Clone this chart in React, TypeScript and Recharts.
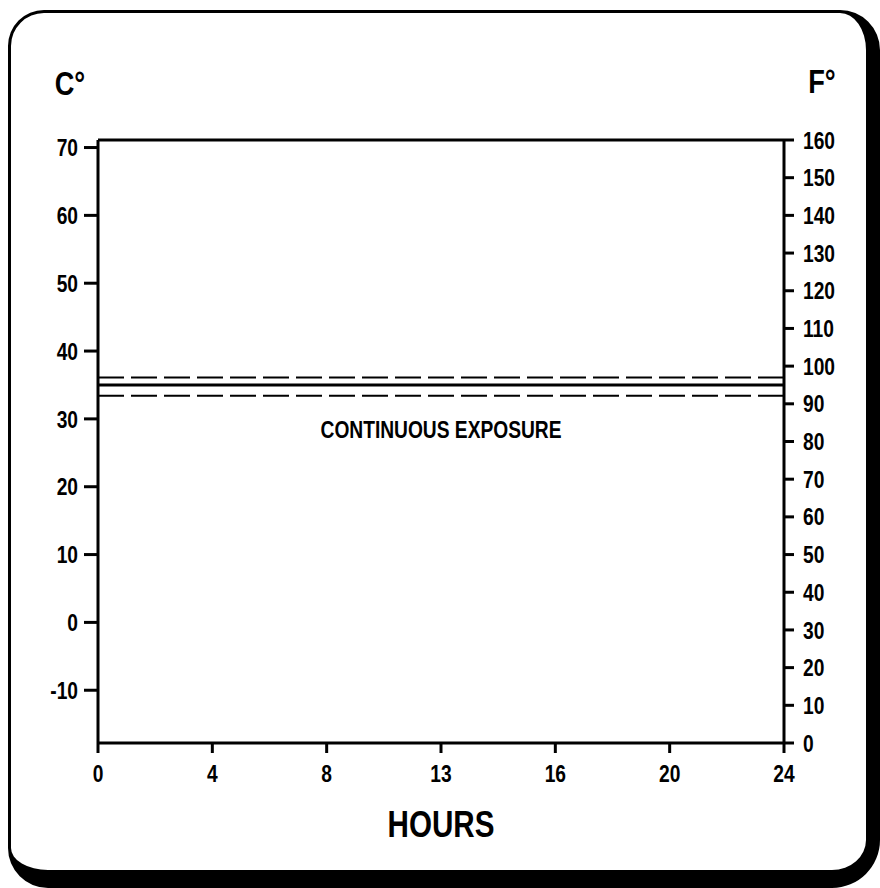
import {
  ComposedChart,
  Line,
  XAxis,
  YAxis,
  ReferenceLine,
  ReferenceDot,
} from 'recharts'

const hours = [0, 24]
const upperBandC = [36.1, 36.1]
const exposureC = [35, 35]
const lowerBandC = [33.4, 33.4]

const hourTicks = [0, 4, 8, 12, 16, 20, 24]
const hourTickLabels = ['0', '4', '8', '13', '16', '20', '24']
const celsiusTicks = [-10, 0, 10, 20, 30, 40, 50, 60, 70]
const fahrenheitTicks = [0, 10, 20, 30, 40, 50, 60, 70, 80, 90, 100, 110, 120, 130, 140, 150, 160]
const exposureLabel = 'CONTINUOUS EXPOSURE'

const FONT = '"Liberation Sans", Arial, sans-serif'
const INK = '#000'
const SQUEEZE = 0.8 // the scan uses a narrow face, fake it with a horizontal squeeze

const data = hours.map((h, i) => ({
  hour: h,
  upper: upperBandC[i],
  exposure: exposureC[i],
  lower: lowerBandC[i],
}))

// C axis spans the same range as 0..160 F on the right
const fToC = (f: number) => (f - 32) / 1.8
const cDomain = [fToC(fahrenheitTicks[0]), fToC(fahrenheitTicks[fahrenheitTicks.length - 1])]

function NarrowText({ x, y, anchor, dy, size, children }: any) {
  return (
    <text
      x={x}
      y={y}
      dy={dy}
      textAnchor={anchor}
      fill={INK}
      fontSize={size}
      fontWeight="bold"
      fontFamily={FONT}
      transform={`translate(${x},${y}) scale(${SQUEEZE},1) translate(${-x},${-y})`}
    >
      {children}
    </text>
  )
}

const hourTick = (p: any) => (
  <NarrowText x={p.x} y={p.y} anchor="middle" dy="0.71em" size={24}>
    {hourTickLabels[hourTicks.indexOf(p.payload.value)] ?? p.payload.value}
  </NarrowText>
)

const leftTick = (p: any) => (
  <NarrowText x={p.x} y={p.y} anchor="end" dy="0.36em" size={24}>
    {p.payload.value}
  </NarrowText>
)

const rightTick = (p: any) => (
  <NarrowText x={p.x} y={p.y} anchor="start" dy="0.36em" size={24}>
    {p.payload.value}
  </NarrowText>
)

export default function App() {
  return (
    <div style={{ position: 'absolute', left: 0, top: 0, width: 880, height: 888, background: '#fff' }}>
      <div
        style={{
          position: 'absolute',
          left: 8,
          top: 10,
          width: 872,
          height: 878,
          boxSizing: 'border-box',
          borderStyle: 'solid',
          borderColor: INK,
          borderTopWidth: 3,
          borderLeftWidth: 3,
          borderRightWidth: 14,
          borderBottomWidth: 18,
          borderRadius: '36px 40px 48px 40px',
        }}
      />
      <div style={{ position: 'absolute', left: 0, top: 0 }}>
        <ComposedChart width={880} height={888} data={data} margin={{ top: 140, right: 0, bottom: 0, left: 0 }}>
          <XAxis
            dataKey="hour"
            type="number"
            domain={[0, 24]}
            ticks={hourTicks}
            height={145}
            axisLine={{ stroke: INK, strokeWidth: 3 }}
            tickLine={{ stroke: INK, strokeWidth: 3 }}
            tickSize={10}
            tickMargin={12}
            tick={hourTick}
            label={{
              content: (p: any) => (
                <NarrowText x={p.viewBox.x + p.viewBox.width / 2} y={p.viewBox.y + 94} anchor="middle" size={37}>
                  HOURS
                </NarrowText>
              ),
            }}
          />
          <YAxis
            yAxisId="c"
            orientation="left"
            type="number"
            domain={cDomain}
            ticks={celsiusTicks}
            allowDataOverflow
            width={98}
            axisLine={{ stroke: INK, strokeWidth: 3 }}
            tickLine={{ stroke: INK, strokeWidth: 3 }}
            tickSize={14}
            tickMargin={6}
            tick={leftTick}
            label={{
              content: (p: any) => (
                <NarrowText x={p.viewBox.x + 70} y={p.viewBox.y - 45} anchor="middle" size={34}>
                  C°
                </NarrowText>
              ),
            }}
          />
          <YAxis
            yAxisId="f"
            orientation="right"
            type="number"
            domain={[0, 160]}
            ticks={fahrenheitTicks}
            allowDataOverflow
            width={96}
            axisLine={{ stroke: INK, strokeWidth: 3 }}
            tickLine={{ stroke: INK, strokeWidth: 3 }}
            tickSize={10}
            tickMargin={9}
            tick={rightTick}
            label={{
              content: (p: any) => (
                <NarrowText x={p.viewBox.x + 38} y={p.viewBox.y - 47} anchor="middle" size={34}>
                  F°
                </NarrowText>
              ),
            }}
          />
          <ReferenceLine yAxisId="f" y={160} stroke={INK} strokeWidth={3} />
          <Line
            yAxisId="c"
            dataKey="upper"
            stroke={INK}
            strokeWidth={2}
            strokeDasharray="26 7"
            dot={false}
            isAnimationActive={false}
          />
          <Line
            yAxisId="c"
            dataKey="exposure"
            stroke={INK}
            strokeWidth={3}
            dot={false}
            isAnimationActive={false}
          />
          <Line
            yAxisId="c"
            dataKey="lower"
            stroke={INK}
            strokeWidth={2}
            strokeDasharray="26 7"
            dot={false}
            isAnimationActive={false}
          />
          <ReferenceDot
            yAxisId="c"
            x={12}
            y={28.5}
            r={0}
            fill="none"
            stroke="none"
            label={{
              content: (p: any) => (
                <NarrowText x={p.viewBox.x} y={p.viewBox.y} anchor="middle" dy="0.36em" size={24}>
                  {exposureLabel}
                </NarrowText>
              ),
            }}
          />
        </ComposedChart>
      </div>
    </div>
  )
}
